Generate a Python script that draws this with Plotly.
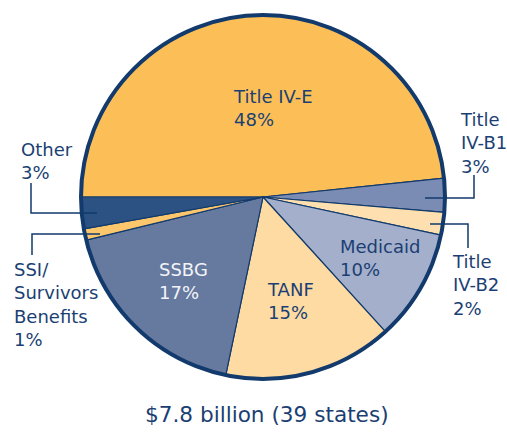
import plotly.graph_objects as go

# ---- data ----
categories = ["Title IV-E", "Title IV-B1", "Title IV-B2", "Medicaid", "TANF", "SSBG",
              "SSI/ Survivors Benefits", "Other"]
values = [48.3, 3.0, 2.0, 9.9, 15.0, 17.9, 1.0, 2.8]
pct_labels = ["48%", "3%", "2%", "10%", "15%", "17%", "1%", "3%"]
label_lines = [["Title IV-E"], ["Title", "IV-B1"], ["Title", "IV-B2"], ["Medicaid"], ["TANF"],
               ["SSBG"], ["SSI/", "Survivors", "Benefits"], ["Other"]]
caption = "$7.8 billion (39 states)"

# ---- styles ----
W, H = 507, 432
PAGE_OFF = 0  # body margin removed via post_script
colors = ["#FCBF57", "#7B8CB4", "#FEE0B0", "#A4AFCB", "#FDDBA2", "#66799F", "#FCC76C", "#2B5283"]
NAVY = "#123A6C"
TEXT = "#1B3F73"
FONT = "DejaVu Sans"
FS = 18

def px(x):
    return (x - PAGE_OFF) / W

def py(y):
    return 1 - (y - PAGE_OFF) / H

cx, cy, r = 263, 197, 182

fig = go.Figure(go.Pie(
    labels=categories,
    values=values,
    sort=False,
    direction="clockwise",
    rotation=270,
    marker=dict(colors=colors, line=dict(color=NAVY, width=1.2)),
    textinfo="none",
    hoverinfo="label+percent",
    showlegend=False,
    domain=dict(x=[px(cx - r), px(cx + r)], y=[py(cy + r), py(cy - r)]),
))

# label positions (left x, cap-top y) and colors
label_pos = [(231, 90), (458, 113), (450, 255), (338, 240), (265, 283), (157, 263), (12, 263), (19, 143)]
label_col = [TEXT, TEXT, TEXT, TEXT, TEXT, "#F2F4F8", TEXT, TEXT]
OFF = 6
annotations = []
for lines, pct, (lx, ly), col in zip(label_lines, pct_labels, label_pos, label_col):
    annotations.append(dict(
        x=px(lx), y=py(ly - OFF), xref="paper", yref="paper",
        xanchor="left", yanchor="top", align="left", showarrow=False,
        text="<br>".join(lines + [pct]),
        font=dict(family=FONT, size=FS, color=col),
    ))
annotations.append(dict(
    x=px(267), y=py(407 - 7), xref="paper", yref="paper",
    xanchor="center", yanchor="top", showarrow=False,
    text=caption, font=dict(family=FONT, size=21.6, color=TEXT),
))

shapes = [dict(type="circle", xref="paper", yref="paper",
               x0=px(cx - r), x1=px(cx + r), y0=py(cy + r), y1=py(cy - r),
               line=dict(color=NAVY, width=4), fillcolor="rgba(0,0,0,0)")]
leaders = [
    [(31, 183), (31, 213), (97, 213)],
    [(32, 255), (32, 234), (100, 234)],
    [(474, 175), (474, 198), (425, 198)],
    [(430, 224), (468, 224), (468, 248)],
]
for pts in leaders:
    path = "M " + " L ".join(f"{px(x)},{py(y)}" for x, y in pts)
    shapes.append(dict(type="path", xref="paper", yref="paper", path=path,
                       line=dict(color=NAVY, width=1.5)))

fig.update_layout(
    width=W, height=H,
    margin=dict(l=0, r=0, t=0, b=0),
    paper_bgcolor="white", plot_bgcolor="white",
    annotations=annotations, shapes=shapes,
)

fig.write_html("out.html",
               config={"displayModeBar": False},
               post_script="document.body.style.margin='0';document.body.style.overflow='hidden';")
